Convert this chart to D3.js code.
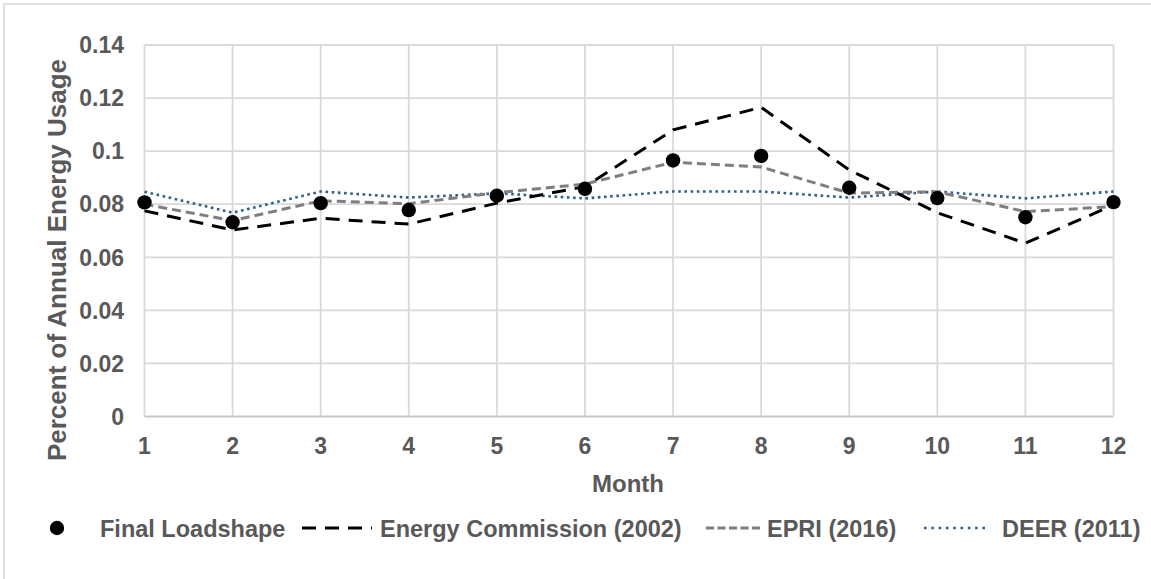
<!DOCTYPE html>
<html>
<head>
<meta charset="utf-8">
<script src="https://cdn.jsdelivr.net/npm/d3@7"></script>
<style>
  html, body { margin: 0; padding: 0; background: #ffffff; }
  svg { display: block; }
  text { font-family: "Liberation Sans", Arial, sans-serif; font-weight: bold; fill: #595959; }
</style>
</head>
<body>
<svg id="chart" width="1151" height="579"></svg>
<script>
// ---- data ----
const months = [1, 2, 3, 4, 5, 6, 7, 8, 9, 10, 11, 12];
const finalLoadshape = [0.0807, 0.0732, 0.0804, 0.0778, 0.0832, 0.0858, 0.0965, 0.0982, 0.0862, 0.0823, 0.0751, 0.0808];
const energyCommission = [0.0775, 0.0703, 0.0747, 0.0725, 0.0804, 0.0866, 0.1080, 0.1165, 0.0929, 0.0768, 0.0653, 0.0797];
const epri = [0.0800, 0.0738, 0.0813, 0.0802, 0.0843, 0.0876, 0.0958, 0.0940, 0.0842, 0.0847, 0.0772, 0.0791];
const deer = [0.0847, 0.0768, 0.0848, 0.0825, 0.0841, 0.0822, 0.0848, 0.0848, 0.0825, 0.0848, 0.0822, 0.0848];
const yTicks = [0, 0.02, 0.04, 0.06, 0.08, 0.1, 0.12, 0.14];
const yTickLabels = ["0", "0.02", "0.04", "0.06", "0.08", "0.1", "0.12", "0.14"];
const xTitle = "Month";
const yTitle = "Percent of Annual Energy Usage";
const legendNames = ["Final Loadshape", "Energy Commission (2002)", "EPRI (2016)", "DEER (2011)"];

// ---- setup ----
const svg = d3.select("#chart");
const W = 1151, H = 579;

// outer chart frame
svg.append("rect")
  .attr("x", 4).attr("y", 4)
  .attr("width", W + 20).attr("height", H + 20)
  .attr("fill", "#ffffff")
  .attr("stroke", "#d9d9d9").attr("stroke-width", 1.6);

const x = d3.scaleLinear().domain([1, 12]).range([144.5, 1113.5]);
const y = d3.scaleLinear().domain([0, 0.14]).range([416.5, 45]);

// horizontal gridlines
svg.append("g").selectAll("line").data(yTicks.filter(d => d > 0)).join("line")
  .attr("x1", x(1)).attr("x2", x(12))
  .attr("y1", d => y(d)).attr("y2", d => y(d))
  .attr("stroke", "#d9d9d9").attr("stroke-width", 1.8);

// vertical gridlines
svg.append("g").selectAll("line").data(months).join("line")
  .attr("x1", d => x(d)).attr("x2", d => x(d))
  .attr("y1", y(0.14)).attr("y2", y(0))
  .attr("stroke", "#d9d9d9").attr("stroke-width", 1.8);

// x axis baseline
svg.append("line")
  .attr("x1", x(1)).attr("x2", x(12))
  .attr("y1", y(0)).attr("y2", y(0))
  .attr("stroke", "#c8c8c8").attr("stroke-width", 2);

// y tick labels
svg.append("g").selectAll("text").data(yTicks).join("text")
  .attr("x", 124).attr("y", d => y(d)).attr("dy", "0.36em")
  .attr("text-anchor", "end")
  .style("font-size", "23px")
  .text((d, i) => yTickLabels[i]);

// x tick labels
svg.append("g").selectAll("text").data(months).join("text")
  .attr("x", d => x(d)).attr("y", 454)
  .attr("text-anchor", "middle")
  .style("font-size", "23px")
  .text(d => d);

// axis titles
svg.append("text")
  .attr("x", 628).attr("y", 492)
  .attr("text-anchor", "middle")
  .style("font-size", "24px")
  .text(xTitle);

svg.append("text")
  .attr("transform", "translate(66,260) rotate(-90)")
  .attr("text-anchor", "middle")
  .style("font-size", "26px")
  .text(yTitle);

// ---- series ----
const line = d3.line().x((d, i) => x(months[i])).y(d => y(d));

const styles = {
  deer: { stroke: "#2e5f8a", width: 2.6, dash: "2.6,3.6" },
  epri: { stroke: "#7f7f7f", width: 3, dash: "9,5" },
  ec:   { stroke: "#000000", width: 3, dash: "14,9" }
};

svg.append("path").datum(deer)
  .attr("d", line).attr("fill", "none")
  .attr("stroke", styles.deer.stroke).attr("stroke-width", styles.deer.width)
  .attr("stroke-dasharray", styles.deer.dash);

svg.append("path").datum(epri)
  .attr("d", line).attr("fill", "none")
  .attr("stroke", styles.epri.stroke).attr("stroke-width", styles.epri.width)
  .attr("stroke-dasharray", styles.epri.dash);

svg.append("path").datum(energyCommission)
  .attr("d", line).attr("fill", "none")
  .attr("stroke", styles.ec.stroke).attr("stroke-width", styles.ec.width)
  .attr("stroke-dasharray", styles.ec.dash);

svg.append("g").selectAll("circle").data(finalLoadshape).join("circle")
  .attr("cx", (d, i) => x(months[i])).attr("cy", d => y(d))
  .attr("r", 7.2).attr("fill", "#000000");

// ---- legend ----
const ly = 528;
const lg = svg.append("g");
lg.append("circle").attr("cx", 57).attr("cy", ly).attr("r", 7.2).attr("fill", "#000");
lg.append("text").attr("x", 100).attr("y", ly + 8.5).style("font-size", "23.5px").text(legendNames[0]);

lg.append("line").attr("x1", 302).attr("x2", 372).attr("y1", ly).attr("y2", ly)
  .attr("stroke", styles.ec.stroke).attr("stroke-width", styles.ec.width)
  .attr("stroke-dasharray", "14,9");
lg.append("text").attr("x", 380).attr("y", ly + 8.5).style("font-size", "23.5px").text(legendNames[1]);

lg.append("line").attr("x1", 706).attr("x2", 761).attr("y1", ly).attr("y2", ly)
  .attr("stroke", styles.epri.stroke).attr("stroke-width", styles.epri.width)
  .attr("stroke-dasharray", "8,3.5");
lg.append("text").attr("x", 767).attr("y", ly + 8.5).style("font-size", "23.5px").text(legendNames[2]);

lg.append("line").attr("x1", 924).attr("x2", 989).attr("y1", ly).attr("y2", ly)
  .attr("stroke", styles.deer.stroke).attr("stroke-width", styles.deer.width)
  .attr("stroke-dasharray", "2.6,4.7");
lg.append("text").attr("x", 1002).attr("y", ly + 8.5).style("font-size", "23.5px").text(legendNames[3]);
</script>
</body>
</html>
